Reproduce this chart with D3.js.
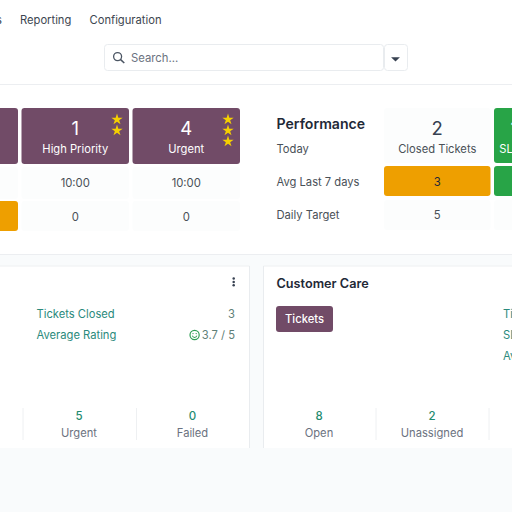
<!DOCTYPE html>
<html><head><meta charset="utf-8">
<script src="https://cdn.jsdelivr.net/npm/d3@7"></script>
<style>html,body{margin:0;padding:0;background:#fff;overflow:hidden}svg{display:block;font-family:Inter,"Noto Sans",sans-serif}</style>
</head><body><svg id="c" width="512" height="512"></svg>
<script>
const menuItems = ["Tickets", "Reporting", "Configuration"];
const searchPlaceholder = "Search...";
const priorityNames = ["", "High Priority", "Urgent"];
const priorityCounts = ["", "1", "4"];
const priorityStars = [0, 2, 3];
const priorityAvg = ["", "10:00", "10:00"];
const priorityTarget = ["", "0", "0"];
const priorityAvgAlert = [true, false, false];
const perfRowLabels = ["Today", "Avg Last 7 days", "Daily Target"];
const perfNames = ["Closed Tickets", "SLA Success"];
const perfToday = ["2", "100%"];
const perfAvg = ["3", ""];
const perfTarget = ["5", ""];
const cardMetricNames = ["Tickets Closed", "Average Rating"];
const cardMetricValues = ["3", "3.7 / 5"];
const cardStatNames = ["Urgent", "Failed"];
const cardStatValues = ["5", "0"];
const careMetricNames = ["Tickets Closed", "SLA Compliance", "Average Rating"];
const careStatNames = ["Open", "Unassigned"];
const careStatValues = ["8", "2"];

const PURPLE="#714b67", ORANGE="#ee9f00", GREEN="#28a447", TILE="#fcfdfd", TEAL="#2b8a7c", NUM="#1f8c70";
const svg=d3.select("#c");
const rect=(x,y,w,h,f,r=0,s=null)=>svg.append("rect").attr("x",x).attr("y",y).attr("width",w).attr("height",h).attr("fill",f).attr("rx",r).attr("stroke",s);
const text=(x,y,t,size,fill,anchor="start",weight=400)=>svg.append("text").attr("x",x).attr("y",y+0.4).attr("dy","0.36em").attr("font-size",size).attr("fill",fill).attr("text-anchor",anchor).attr("font-weight",weight).text(t);
const hline=(x1,x2,y,c)=>svg.append("line").attr("x1",x1).attr("x2",x2).attr("y1",y).attr("y2",y).attr("stroke",c);
const vline=(x,y1,y2,c)=>svg.append("line").attr("x1",x).attr("x2",x).attr("y1",y1).attr("y2",y2).attr("stroke",c);

// bands
rect(0,255,512,257,"#f9fbfc");
hline(0,512,84.5,"#eceef1");
hline(0,512,254.5,"#eceef1");

// menu
const menuX=d3.scaleOrdinal().domain(menuItems).range([2,20,89.5]);
menuItems.forEach((m,i)=>text(menuX(m),19.5,m,11.2,"#3d4650",i?"start":"end",400));

// search
rect(104.5,44.5,279,26,"#fff",3,"#e9ecef");
rect(384.5,44.5,23,26,"#fff",3,"#e9ecef");
svg.append("circle").attr("cx",117.6).attr("cy",56.6).attr("r",4).attr("fill","none").attr("stroke","#4b5563").attr("stroke-width",1.3);
svg.append("line").attr("x1",120.6).attr("y1",59.6).attr("x2",124.3).attr("y2",63).attr("stroke","#4b5563").attr("stroke-width",1.5);
text(131,58,searchPlaceholder,11.3,"#6b7280");
svg.append("path").attr("transform","translate(395.5,58.6) rotate(180) scale(1.45,0.8)").attr("d",d3.symbol(d3.symbolTriangle).size(16)).attr("fill","#374151");

// priority table
const colX=d3.scaleLinear().domain([0,2]).range([-89.5,132.5]);
const colW=107.5;
priorityNames.forEach((n,i)=>{
  const x=colX(i), cx=x+colW/2;
  rect(x,108,colW,56,PURPLE,3);
  text(cx,128,priorityCounts[i],18.5,"#fff","middle");
  text(cx,149,n,11.2,"#fff","middle");
  d3.range(priorityStars[i]).forEach(k=>{
    svg.append("path").attr("transform",`translate(${x+95.5},${119.5+k*11})`).attr("d",d3.symbol(d3.symbolStar).size(40)).attr("fill","#f5d000");
  });
  rect(x,167,colW,32,TILE,3);
  text(cx,183,priorityAvg[i],11.3,"#495057","middle");
  rect(x,201,colW,30,priorityAvgAlert[i]?ORANGE:TILE,3);
  text(cx,217,priorityTarget[i],11.3,"#495057","middle");
});

// performance
text(276.5,124,"Performance",14.1,"#1f2937","start",600);
const perfY=d3.scalePoint().domain(perfRowLabels).range([149,215]);
perfRowLabels.forEach(l=>text(276.5,perfY(l),l,11.2,"#495057"));
const perfX=d3.scaleLinear().domain([0,1]).range([384,494]);
const perfW=[106.5,82];
perfNames.forEach((n,i)=>{
  const x=perfX(i), cx=x+perfW[i]/2, g=i==1;
  rect(x,108,perfW[i],55,g?GREEN:TILE,3);
  text(cx,128,perfToday[i],18.5,g?"#fff":"#374151","middle");
  text(cx-(g?1:0),149,n,11.2,g?"#fff":"#495057","middle");
  rect(x,166,perfW[i],30,g?GREEN:ORANGE,3);
  text(cx,181.5,perfAvg[i],11.3,"#1f2937","middle");
  rect(x,200,perfW[i],30,TILE,3);
  text(cx,215,perfTarget[i],11.3,"#495057","middle");
});

// left card
rect(0,266,249.5,182,"#fff");
hline(0,249.5,266,"#eef0f2");
vline(249.5,266,448,"#e9ecef");
[0,1,2].forEach(k=>svg.append("circle").attr("cx",233.7).attr("cy",278.5+k*3.4).attr("r",1.25).attr("fill","#374151"));
const metricY=d3.scaleLinear().domain([0,2]).range([314,356]);
cardMetricNames.forEach((n,i)=>{
  text(36.5,metricY(i),n,11.2,TEAL);
  text(235,metricY(i),cardMetricValues[i],11.2,"#5f7f78","end");
});
svg.append("circle").attr("cx",194.6).attr("cy",335).attr("r",4.6).attr("fill","none").attr("stroke","#2f9e54").attr("stroke-width",1.2);
svg.append("path").attr("d",d3.arc()({innerRadius:2.1,outerRadius:2.9,startAngle:Math.PI/2+.3,endAngle:Math.PI*1.5-.3})).attr("transform","translate(194.6,335)").attr("fill","#2f9e54");
[-1.6,1.6].forEach(d=>svg.append("circle").attr("cx",194.6+d).attr("cy",333.6).attr("r",.7).attr("fill","#2f9e54"));
const statX=d3.scaleLinear().domain([0,1]).range([79,192.5]);
cardStatNames.forEach((n,i)=>{
  text(statX(i),415,cardStatValues[i],11.5,NUM,"middle",500);
  text(statX(i),433,n,11.2,"#6b7280","middle");
  vline(statX(i)-56,408,440,"#eef0f2");
});

// right card
rect(263.5,266,249,182,"#fff");
hline(263.5,512,266,"#eef0f2");
vline(263.5,266,448,"#e9ecef");
text(276.5,283,"Customer Care",12.7,"#1f2937","start",600);
rect(276,306,57,26,PURPLE,3);
text(304.5,319,"Tickets",11.2,"#fff","middle",500);
careMetricNames.forEach((n,i)=>text(503,metricY(i),n,11.2,TEAL));
const careX=d3.scaleLinear().domain([0,1]).range([319,432]);
careStatNames.forEach((n,i)=>{
  text(careX(i),415,careStatValues[i],11.5,NUM,"middle",500);
  text(careX(i),433,n,11.2,"#6b7280","middle");
  vline(careX(i)+57,408,440,"#eef0f2");
});
</script></body></html>
